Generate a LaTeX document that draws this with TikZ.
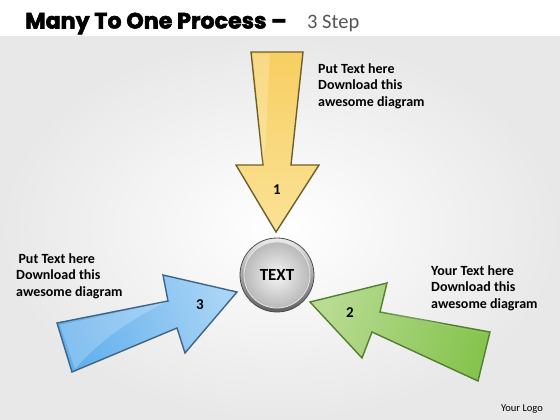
\documentclass[tikz,border=0pt]{standalone}
\usepackage{fontspec}
\setmainfont{Carlito}
\newfontfamily\titlefont[BoldFeatures={FakeBold=2.5}]{Poppins}
\definecolor{ytail}{HTML}{F7CF62}
\definecolor{yhead}{HTML}{FBE297}
\definecolor{yline}{HTML}{6E5F2A}
\definecolor{btail}{HTML}{62AFEC}
\definecolor{bhead}{HTML}{A8D4F6}
\definecolor{bline}{HTML}{3F6584}
\definecolor{gtail}{HTML}{86C44F}
\definecolor{ghead}{HTML}{B9DB93}
\definecolor{gline}{HTML}{527F30}
\definecolor{subgray}{HTML}{555555}
\tikzset{
  arrowshape/.style={line width=1.4pt, line join=miter},
  lbl/.style={font=\fontsize{14}{16.5}\selectfont\bfseries, align=left, inner sep=0pt, anchor=north west},
  num/.style={font=\fontsize{15}{16}\selectfont\bfseries, inner sep=0pt},
  gloss/.style={white, opacity=0.22},
}
\begin{document}
\begin{tikzpicture}[x=1pt,y=-1pt]
\useasboundingbox (0,0) rectangle (560,420);
% background
\fill[white] (0,0) rectangle (560,37);
\shade[inner color=white, outer color=black!9] (0,37) rectangle (560,420);
% title
\node[anchor=base west, inner sep=0pt] (title) at (25,28.5)
  {\titlefont\fontsize{22.2}{24}\selectfont\bfseries Many To One Process \textendash};
\node[anchor=base west, inner sep=0pt, text=subgray] (sub) at (307,28.5)
  {\fontsize{20.5}{24}\selectfont 3 Step};
% yellow arrow 1
\draw[arrowshape, draw=yline, top color=ytail, bottom color=yhead]
  (251,52) -- (303,52) -- (291,165) -- (319,165) -- (276,232) -- (236,165) -- (263,165) -- cycle;
\fill[gloss] (253,54) -- (270,54) .. controls (266,110) and (268,140) .. (262,163) -- (263,165) -- cycle;
% blue arrow 3
\draw[arrowshape, draw=bline, top color=bhead, bottom color=btail, shading angle=-72]
  (57,323) -- (168,301) -- (163,275) -- (237,292) -- (185,353) -- (177,328) -- (72,372) -- cycle;
\fill[gloss] (60,325) -- (166,302) .. controls (130,320) and (100,340) .. (75,369) -- cycle;
% green arrow 2
\draw[arrowshape, draw=gline, top color=ghead, bottom color=gtail, shading angle=73]
  (490,332) -- (380,312) -- (387,283) -- (310,302) -- (362,358) -- (372,332) -- (478,381) -- cycle;
\fill[gloss] (380,312) .. controls (420,316) and (460,330) .. (487,334) -- (380,312) -- cycle;
% center circle
\shade[top color=gray!15, bottom color=gray!75!black] (277,275) circle[radius=37];
\draw[gray!60!black, line width=0.8pt] (277,275) circle[radius=37];
\shade[inner color=gray!8, outer color=gray!55] (277,275) circle[radius=33];
\draw[white!80!gray, line width=0.8pt] (277,275) circle[radius=33];
\node[font=\fontsize{17}{20}\selectfont\bfseries, inner sep=0pt] (center) at (277,275) {TEXT};
% numbers
\node[num] (n1) at (277,190) {1};
\node[num] (n2) at (350,313) {2};
\node[num] (n3) at (200,305) {3};
% labels
\node[lbl] (t1) at (318,63) {Put Text here\\Download this\\awesome diagram};
\node[lbl] (t3) at (16,253) {\,Put Text here\\Download this\\awesome diagram};
\node[lbl] (t2) at (431,265) {Your Text here\\Download this\\awesome diagram};
\node[font=\fontsize{10.5}{12}\selectfont, inner sep=0pt] (logo) at (522,409) {Your Logo};
\end{tikzpicture}
\end{document}
